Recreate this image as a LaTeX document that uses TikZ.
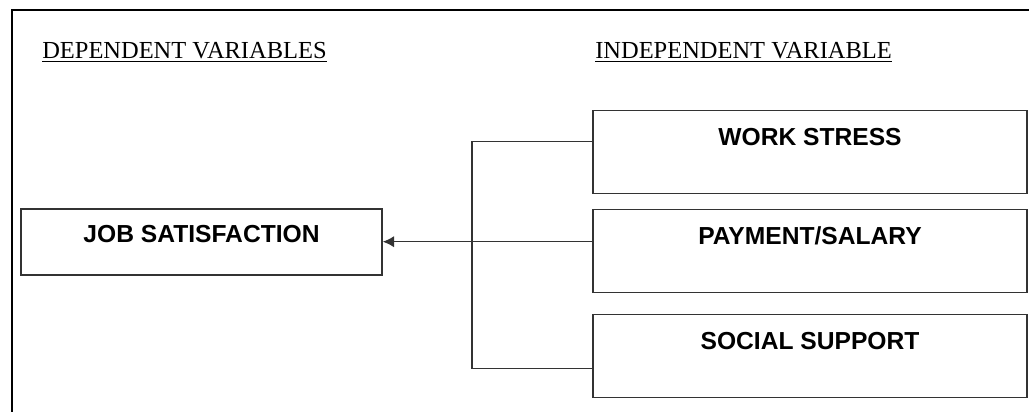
\documentclass[tikz,border=0pt]{standalone}
\usepackage{fontspec}
\setmainfont{Liberation Serif}
\newfontfamily\boxfont{Liberation Sans}
\usetikzlibrary{arrows.meta,calc}
\tikzset{
  head/.style={anchor=base west, inner sep=0pt, font=\fontsize{17.4}{20}\selectfont},
  varbox/.style={draw=black!80, line width=1pt, inner sep=0pt, font=\boxfont\bfseries\fontsize{17.5}{20}\selectfont},
  rightbox/.style={varbox, anchor=north, minimum width=10.85cm, text height=0.875cm, text depth=1.2cm},
  link/.style={draw=black!80, line width=1pt}
}

\begin{document}
\begin{tikzpicture}[x=0.025cm,y=-0.025cm]
\useasboundingbox (0,0) rectangle (1029,412);
\draw[line width=1.8pt] (12,412) -- (12,10) -- (1029,10);
\node[head] (dep) at (42,59) {\underline{DEPENDENT VARIABLES}};
\node[head] (indep) at (595,59) {\underline{INDEPENDENT VARIABLE}};
\node[varbox, minimum width=9.025cm, text height=0.825cm, text depth=0.825cm] (job) at (201.5,242) {JOB SATISFACTION};
\node[rightbox] (ws) at (810,110) {WORK STRESS};
\node[rightbox] (pay) at (810,209) {PAYMENT/SALARY};
\node[rightbox] (ss) at (810,314) {SOCIAL SUPPORT};
\coordinate (trunk) at (472,0);
\coordinate (ws in) at ($(ws.west)+(0,-10.5)$);
\coordinate (pay in) at ($(pay.west)+(0,-9.5)$);
\coordinate (ss in) at ($(ss.west)+(0,12.5)$);
\draw[link] (ws in) -- (ws in -| trunk) -- (ss in -| trunk) -- (ss in);
\draw[link, -{Latex[length=8pt,width=8pt]}] (pay in) -- (pay in -| job.east);
\end{tikzpicture}
\end{document}
